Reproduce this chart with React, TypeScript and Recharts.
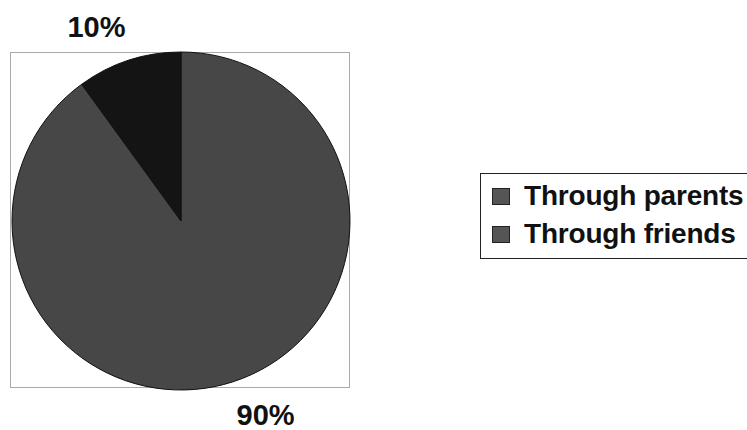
import React from 'react';
import { PieChart, Pie, Cell, Legend } from 'recharts';

const categories = ['Through parents', 'Through friends'];
const values = [90, 10];
const labels = ['90%', '10%'];
const colors = ['#474747', '#141414'];

const data = categories.map((name, i) => ({ name, value: values[i], label: labels[i] }));

const RAD = Math.PI / 180;

const renderLabel = (props: any) => {
  const { cx, cy, midAngle, outerRadius, index } = props;
  const a = (midAngle + 5.5) * RAD;
  const r = outerRadius + 43;
  const x = cx + r * Math.cos(a);
  const y = cy - r * Math.sin(a);
  return (
    <text
      x={x}
      y={y}
      textAnchor="middle"
      dominantBaseline="central"
      fontFamily="'Liberation Sans', Arial, sans-serif"
      fontWeight="bold"
      fontSize={29}
      fill="#111"
    >
      {data[index].label}
    </text>
  );
};

const renderLegend = () => (
  <div
    style={{
      border: '1.5px solid #222',
      borderRight: 'none',
      padding: '3px 0 5px 11px',
      width: 270,
      boxSizing: 'border-box',
      fontFamily: "'Liberation Sans', Arial, sans-serif",
      fontWeight: 'bold',
      fontSize: 28,
      color: '#111',
      letterSpacing: -0.2,
    }}
  >
    {data.map((d) => (
      <div key={d.name} style={{ display: 'flex', alignItems: 'center', height: 38 }}>
        <span
          style={{
            display: 'inline-block',
            width: 16,
            height: 15,
            background: '#555',
            border: '1px solid #222',
            marginRight: 14,
            flexShrink: 0,
          }}
        />
        <span style={{ whiteSpace: 'nowrap' }}>{d.name}</span>
      </div>
    ))}
  </div>
);

export default function App() {
  return (
    <div style={{ position: 'absolute', left: 0, top: 0, width: 747, height: 430, background: '#fff', overflow: 'hidden' }}>
      <div
        style={{
          position: 'absolute',
          left: 10,
          top: 52,
          width: 340,
          height: 336,
          border: '1px solid #aaa',
          boxSizing: 'border-box',
        }}
      />
      <PieChart
        width={747}
        height={430}
        margin={{ top: 0, right: 0, bottom: 0, left: 0 }}
        style={{ position: 'absolute', left: 0, top: 0 }}
      >
        <Pie
          data={data}
          dataKey="value"
          nameKey="name"
          cx={181}
          cy={221}
          outerRadius={169}
          startAngle={90}
          endAngle={-270}
          stroke="#111"
          strokeWidth={1}
          label={renderLabel}
          labelLine={false}
          isAnimationActive={false}
        >
          {data.map((d, i) => (
            <Cell key={d.name} fill={colors[i]} />
          ))}
        </Pie>
        <Legend
          content={renderLegend}
          layout="vertical"
          wrapperStyle={{ position: 'absolute', left: 480, top: 173, width: 270 }}
        />
      </PieChart>
    </div>
  );
}
